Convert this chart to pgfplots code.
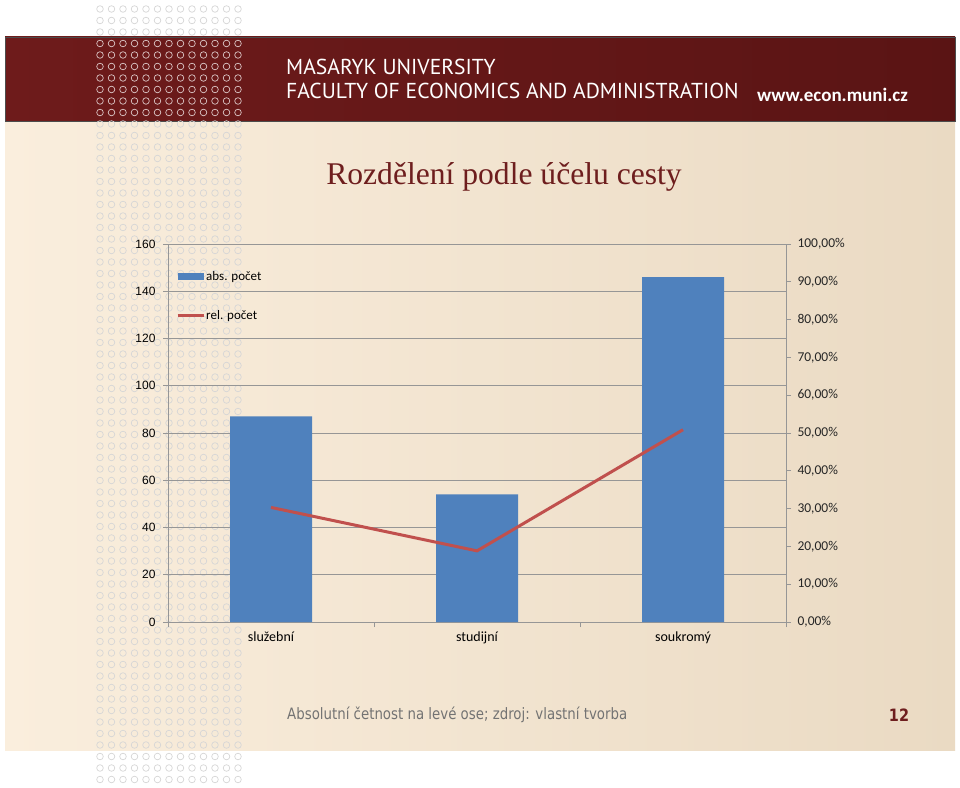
\documentclass[border=0pt]{standalone}
\usepackage{fontspec}
\usepackage{pgfplots}
\pgfplotsset{compat=1.18}
\setmainfont{Carlito}
\newfontfamily\arialf{Liberation Sans}
\newfontfamily\timesf{Liberation Serif}
\newfontfamily\headf{PT Sans}
\newfontfamily\footf[FakeStretch=0.85]{DejaVu Sans}

\definecolor{barblue}{RGB}{79,129,189}
\definecolor{linered}{RGB}{192,80,77}
\definecolor{headred}{RGB}{110,27,27}
\definecolor{headdark}{RGB}{90,20,20}
\definecolor{beigeL}{RGB}{250,238,221}
\definecolor{beigeR}{RGB}{234,218,195}
\definecolor{gridgray}{RGB}{150,150,150}
\definecolor{titlered}{RGB}{110,30,30}

\begin{document}
\begin{tikzpicture}[x=1pt,y=1pt]
  \path[use as bounding box] (0,0) rectangle (960,787);
  \fill[white] (0,0) rectangle (960,787);
  % slide background
  \shade[left color=beigeL, right color=beigeR] (5,37) rectangle (955,666);
  % header band
  \shade[left color=headred, right color=headdark] (5,666) rectangle (955,750);
  \draw[black!70, line width=0.8pt] (5,666) rectangle (955,750);
  % dotted column
  \foreach \i in {0,...,12} {
    \foreach \j in {0,1,2,10,11,...,67} {
      \draw[black!16, line width=0.7pt] ({100+11.5*\i},{787-(9+11.5*\j)}) circle (3.3);
    }
    \foreach \j in {3,...,9} {
      \draw[white!75!headred, line width=0.7pt] ({100+11.5*\i},{787-(9+11.5*\j)}) circle (3.3);
    }
  }
  % header texts
  \node[anchor=west, text=white, inner sep=0pt, font=\headf\fontsize{21.6}{24}\selectfont] at (286,720) {MASARYK UNIVERSITY};
  \node[anchor=west, text=white, inner sep=0pt, font=\headf\fontsize{21.6}{24}\selectfont] at (286,696) {FACULTY OF ECONOMICS AND ADMINISTRATION};
  \node[anchor=west, text=white, inner sep=0pt, font=\bfseries\fontsize{19}{21}\selectfont] at (757,692) {www.econ.muni.cz};
  % title
  \node[text=titlered, inner sep=0pt, font=\timesf\fontsize{31.6}{34}\selectfont] at (504,610) {Rozdělení podle účelu cesty};
  % footer
  \node[anchor=west, text=black!55, inner sep=0pt, font=\footf\fontsize{15.7}{18}\selectfont] at (287,72) {Absolutní četnost na levé ose; zdroj: vlastní tvorba};
  \node[text=titlered, inner sep=0pt, font=\footf\bfseries\fontsize{17}{19}\selectfont] at (899,72) {12};

  \begin{axis}[
      at={(168pt,165pt)}, anchor=south west,
      scale only axis, width=618pt, height=378pt,
      xmin=-0.5, xmax=2.5, ymin=0, ymax=160,
      axis x line*=bottom, axis y line*=left,
      axis line style={gridgray, line width=0.8pt},
      tick align=outside, major tick length=5pt,
      tick style={gridgray, line width=0.8pt},
      ytick={0,20,...,160},
      ymajorgrids, grid style={gridgray, line width=0.8pt},
      xtick={-0.5,0.5,1.5,2.5}, xticklabels={},
      extra x ticks={0,1,2},
      extra x tick labels={služební,studijní,soukromý},
      extra x tick style={major tick length=0pt, grid=none,
        tick label style={font=\fontsize{14}{16}\selectfont, yshift=-6pt}},
      yticklabel style={font=\arialf\fontsize{12}{14}\selectfont, xshift=-4pt},
      /pgf/number format/assume math mode=true,
      legend style={at={(0.013,0.93)}, anchor=north west, draw=none, fill=none,
        font=\fontsize{13}{15}\selectfont, row sep=26pt, inner sep=0pt,
        nodes={inner sep=1pt}},
      legend cell align=left,
    ]
    \addplot[ybar, bar width=82pt, fill=barblue, draw=none,
      legend image code/.code={\fill[barblue] (0pt,-3.5pt) rectangle (26pt,3.5pt);}]
      coordinates {(0,87) (1,54) (2,146)};
    \addlegendentry{abs. počet}
    \addlegendimage{legend image code/.code={\draw[linered, line width=3pt] (0pt,0pt) -- (26pt,0pt);}}
    \addlegendentry{rel. počet}
  \end{axis}

  \begin{axis}[
      at={(168pt,165pt)}, anchor=south west,
      scale only axis, width=618pt, height=378pt,
      xmin=-0.5, xmax=2.5, ymin=0, ymax=100,
      axis x line=none, axis y line*=right,
      axis line style={gridgray, line width=0.8pt},
      tick align=outside, major tick length=5pt,
      tick style={gridgray, line width=0.8pt},
      ytick={0,10,...,100},
      yticklabels={{0,00\%},{10,00\%},{20,00\%},{30,00\%},{40,00\%},{50,00\%},
        {60,00\%},{70,00\%},{80,00\%},{90,00\%},{100,00\%}},
      yticklabel style={font=\fontsize{13.5}{15}\selectfont, text=black!85, xshift=3pt},
    ]
    \addplot[linered, line width=3pt] coordinates {(0,30.31) (1,18.82) (2,50.87)};
  \end{axis}
\end{tikzpicture}
\end{document}
